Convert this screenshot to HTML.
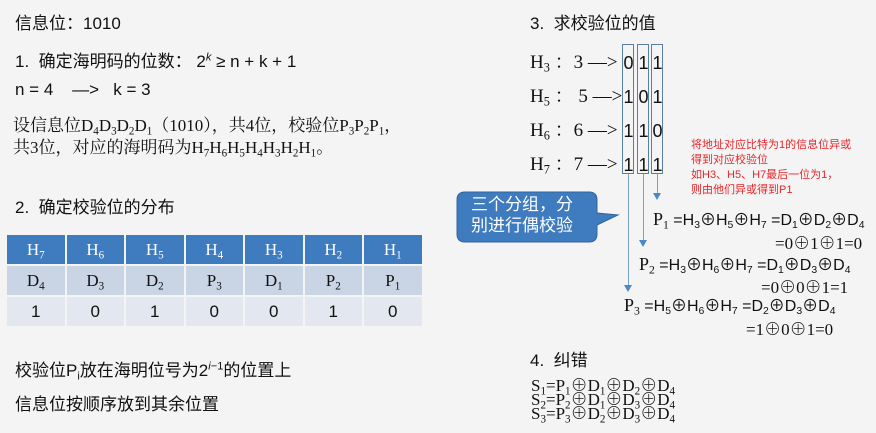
<!DOCTYPE html>
<html><head><meta charset="utf-8"><style>
body{margin:0;width:876px;height:433px;background:#f4f4f4;position:relative;overflow:hidden;font-family:"Liberation Sans","Noto Sans CJK SC",sans-serif;color:#111}
.a{position:absolute;white-space:nowrap}
.s{font-family:"Liberation Serif","Noto Serif CJK SC",serif}
sub{font-size:65%;vertical-align:-0.3em;line-height:0}
sup{font-size:65%;line-height:0}
table{position:absolute;left:5px;top:233px;border-collapse:separate;border-spacing:2px 2px}
td{width:57.5px;padding:0;text-align:center;font-size:17px}
.h td{background:#3f7bbf;color:#fff;height:29px;font-family:"Liberation Serif",serif}
.d td{background:#c9d4e4;height:29px;font-family:"Liberation Serif",serif}
.v td{background:#e3e8f0;height:29px}
.box{position:absolute;border:1.5px solid #5a7ea6;width:10px;top:44px;height:128px}
.dg{position:absolute;width:13px;text-align:center;font-size:18px;line-height:34px;top:46px}
.ln{position:absolute;width:1px;background:#7aa3cc}
.ar{position:absolute;width:0;height:0;border-left:4px solid transparent;border-right:4px solid transparent;border-top:7px solid #4a88c8}
.eq{font-size:16px}
</style></head><body>
<div class="a" style="left:15px;top:9px;font-size:17px">信息位：1010</div>
<div class="a" style="left:15px;top:47px;font-size:17px">1.&nbsp; 确定海明码的位数：&nbsp;2<sup><i>k</i></sup> ≥ n + k + 1</div>
<div class="a" style="left:15px;top:80px;font-size:17px">n = 4 &nbsp;&nbsp; —> &nbsp;&nbsp;k = 3</div>
<div class="a s" style="left:13px;top:115px;font-size:17px;line-height:22px">设信息位D<sub>4</sub>D<sub>3</sub>D<sub>2</sub>D<sub>1</sub>（1010），共4位，校验位P<sub>3</sub>P<sub>2</sub>P<sub>1</sub>，<br>共3位，对应的海明码为H<sub>7</sub>H<sub>6</sub>H<sub>5</sub>H<sub>4</sub>H<sub>3</sub>H<sub>2</sub>H<sub>1</sub>。</div>
<div class="a" style="left:15px;top:193px;font-size:17px">2.&nbsp; 确定校验位的分布</div>
<table>
<tr class="h"><td>H<sub>7</sub></td><td>H<sub>6</sub></td><td>H<sub>5</sub></td><td>H<sub>4</sub></td><td>H<sub>3</sub></td><td>H<sub>2</sub></td><td>H<sub>1</sub></td></tr>
<tr class="d"><td>D<sub>4</sub></td><td>D<sub>3</sub></td><td>D<sub>2</sub></td><td>P<sub>3</sub></td><td>D<sub>1</sub></td><td>P<sub>2</sub></td><td>P<sub>1</sub></td></tr>
<tr class="v"><td>1</td><td>0</td><td>1</td><td>0</td><td>0</td><td>1</td><td>0</td></tr>
</table>
<div class="a" style="left:15px;top:356px;font-size:17px">校验位P<sub>i</sub>放在海明位号为2<sup><i>i</i>−1</sup>的位置上</div>
<div class="a" style="left:15px;top:390px;font-size:17px">信息位按顺序放到其余位置</div>

<div class="a" style="left:530px;top:9px;font-size:17px">3.&nbsp; 求校验位的值</div>
<div class="a s" style="left:530px;top:46px;font-size:19px;line-height:34px">H<sub>3</sub> ：3 —&gt;<br>H<sub>5</sub> ：&nbsp;5 —&gt;<br>H<sub>6</sub> ：6 —&gt;<br>H<sub>7</sub> ：7 —&gt;</div>
<div class="box" style="left:622px"></div><div class="box" style="left:637px"></div><div class="box" style="left:651px"></div>
<div class="dg" style="left:622px">0<br>1<br>1<br>1</div>
<div class="dg" style="left:637px">1<br>0<br>1<br>1</div>
<div class="dg" style="left:651px">1<br>1<br>0<br>1</div>
<div class="ln" style="left:657px;top:174px;height:21px"></div><div class="ar" style="left:653px;top:193px"></div>
<div class="ln" style="left:643px;top:174px;height:68px"></div><div class="ar" style="left:639px;top:240px"></div>
<div class="ln" style="left:628px;top:174px;height:113px"></div><div class="ar" style="left:624px;top:285px"></div>
<div class="a" style="left:691px;top:138px;font-size:11px;line-height:15px;color:#e8262b">将地址对应比特为1的信息位异或<br>得到对应校验位<br>如H3、H5、H7最后一位为1，<br>则由他们异或得到P1</div>
<svg class="a" style="left:455px;top:190px" width="170" height="56"><path d="M10 2 H134 Q142 2 142 10 V23 L163 25 L142 35 V44 Q142 52 134 52 H10 Q2 52 2 44 V10 Q2 2 10 2Z" fill="#3f7bbf" stroke="#2f659f"/></svg>
<div class="a" style="left:471px;top:194px;font-size:17px;line-height:21px;color:#fff">三个分组，分<br>别进行偶校验</div>
<div class="a eq" style="left:653px;top:206px"><span class="s" style="font-size:18px">P<sub>1</sub></span> =H<sub>3</sub>⊕H<sub>5</sub>⊕H<sub>7</sub> =D<sub>1</sub>⊕D<sub>2</sub>⊕D<sub>4</sub></div>
<div class="a s" style="left:775px;top:229px;font-size:17px">=0⊕1⊕1=0</div>
<div class="a eq" style="left:639px;top:251px"><span class="s" style="font-size:18px">P<sub>2</sub></span> =H<sub>3</sub>⊕H<sub>6</sub>⊕H<sub>7</sub> =D<sub>1</sub>⊕D<sub>3</sub>⊕D<sub>4</sub></div>
<div class="a s" style="left:761px;top:273px;font-size:17px">=0⊕0⊕1=1</div>
<div class="a eq" style="left:624px;top:292px"><span class="s" style="font-size:18px">P<sub>3</sub></span> =H<sub>5</sub>⊕H<sub>6</sub>⊕H<sub>7</sub> =D<sub>2</sub>⊕D<sub>3</sub>⊕D<sub>4</sub></div>
<div class="a s" style="left:746px;top:315px;font-size:17px">=1⊕0⊕1=0</div>
<div class="a" style="left:530px;top:346px;font-size:17px">4.&nbsp; 纠错</div>
<div class="a s" style="left:531px;top:379px;font-size:17px;line-height:14px">S<sub>1</sub>=P<sub>1</sub>⊕D<sub>1</sub>⊕D<sub>2</sub>⊕D<sub>4</sub><br>S<sub>2</sub>=P<sub>2</sub>⊕D<sub>1</sub>⊕D<sub>3</sub>⊕D<sub>4</sub><br>S<sub>3</sub>=P<sub>3</sub>⊕D<sub>2</sub>⊕D<sub>3</sub>⊕D<sub>4</sub></div>
</body></html>
